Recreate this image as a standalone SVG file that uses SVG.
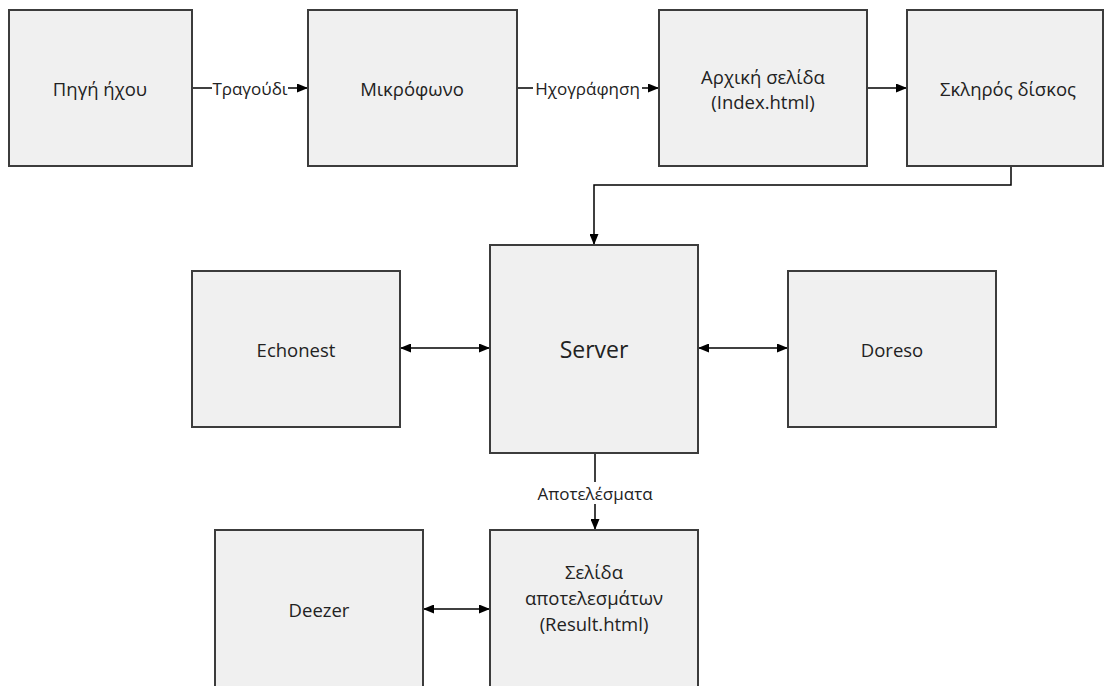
<svg xmlns="http://www.w3.org/2000/svg" width="1109" height="686" viewBox="0 0 1109 686">
<defs>
<marker id="ah" markerWidth="11" markerHeight="9" refX="10" refY="4.5" orient="auto-start-reverse" markerUnits="userSpaceOnUse">
<path d="M0,0 L11,4.5 L0,9 z" fill="#000"/>
</marker>
<style>
.box{fill:#f0f0f0;stroke:#3c3c3c;stroke-width:2}
.t{font-family:"Open Sans","Liberation Sans",sans-serif;font-size:18.5px;fill:#222;text-anchor:middle;dominant-baseline:central}
.big{font-size:23px}
.lbl{font-family:"Open Sans","Liberation Sans",sans-serif;font-size:17px;fill:#222;text-anchor:middle;dominant-baseline:central}
.c{fill:none;stroke:#000;stroke-width:1.5}
.bg{fill:#fff}
</style>
</defs>
<rect width="1109" height="686" fill="#fff"/>
<g id="connectors">
<line class="c" x1="192" y1="88" x2="307" y2="88" marker-end="url(#ah)"/>
<rect class="bg" x="212" y="78" width="76" height="20"/>
<text class="lbl" x="250" y="88">Τραγούδι</text>
<line class="c" x1="517" y1="88" x2="658" y2="88" marker-end="url(#ah)"/>
<rect class="bg" x="533" y="78" width="109" height="20"/>
<text class="lbl" x="587.5" y="88">Ηχογράφηση</text>
<line class="c" x1="867" y1="88" x2="906" y2="88" marker-end="url(#ah)"/>
<polyline class="c" points="1011,166 1011,185 594,185 594,244" marker-end="url(#ah)"/>
<line class="c" x1="401" y1="348" x2="489" y2="348" marker-start="url(#ah)" marker-end="url(#ah)"/>
<line class="c" x1="699" y1="348" x2="787" y2="348" marker-start="url(#ah)" marker-end="url(#ah)"/>
<line class="c" x1="595" y1="453" x2="595" y2="529" marker-end="url(#ah)"/>
<rect class="bg" x="533" y="482" width="124" height="22"/>
<text class="lbl" x="595" y="493">Αποτελέσματα</text>
<line class="c" x1="424" y1="609" x2="489" y2="609" marker-start="url(#ah)" marker-end="url(#ah)"/>
</g>
<g id="n1"><rect class="box" x="9" y="10" width="183" height="156"/><text class="t" x="100" y="88">Πηγή ήχου</text></g>
<g id="n2"><rect class="box" x="308" y="10" width="209" height="156"/><text class="t" x="412" y="88">Μικρόφωνο</text></g>
<g id="n3"><rect class="box" x="659" y="10" width="208" height="156"/><text class="t" x="763" y="76">Αρχική σελίδα</text><text class="t" x="763" y="101">(Index.html)</text></g>
<g id="n4"><rect class="box" x="907" y="10" width="196" height="156"/><text class="t" x="1008" y="88">Σκληρός δίσκος</text></g>
<g id="server"><rect class="box" x="490" y="245" width="208" height="208"/><text class="t big" x="594" y="349">Server</text></g>
<g id="echonest"><rect class="box" x="192" y="271" width="208" height="156"/><text class="t" x="296" y="349">Echonest</text></g>
<g id="doreso"><rect class="box" x="788" y="271" width="208" height="156"/><text class="t" x="892" y="349">Doreso</text></g>
<g id="deezer"><rect class="box" x="215" y="530" width="208" height="170"/><text class="t" x="319" y="609">Deezer</text></g>
<g id="result"><rect class="box" x="490" y="530" width="208" height="170"/><text class="t" x="594" y="571">Σελίδα</text><text class="t" x="594" y="597">αποτελεσμάτων</text><text class="t" x="594" y="623">(Result.html)</text></g>
</svg>
